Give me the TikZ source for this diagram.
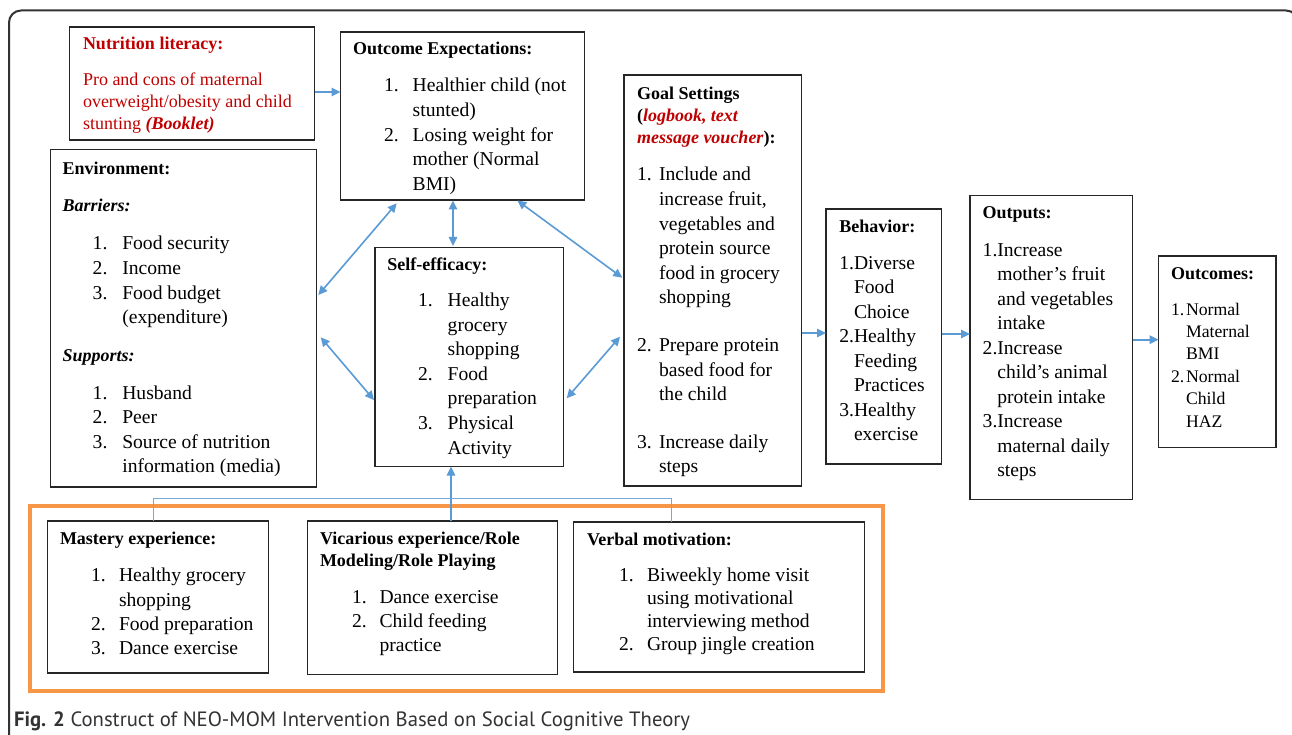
\documentclass[tikz,border=0pt]{standalone}
\usepackage{fontspec}
\setmainfont{LiberationSerif}[Extension=.ttf, UprightFont=*-Regular, BoldFont=*-Bold, ItalicFont=*-Italic, BoldItalicFont=*-BoldItalic]
\newfontfamily\capfont{PT Sans}
\usepackage{array}
\usetikzlibrary{arrows.meta,calc}
\definecolor{nred}{HTML}{C00000}
\definecolor{nblue}{HTML}{5B9BD5}
\definecolor{norange}{HTML}{F79646}
\definecolor{framegray}{HTML}{333333}
\newcommand\ttl{\fontsize{18}{22}\selectfont\bfseries}
\newcommand\bdy{\fontsize{19.6}{24.6}\selectfont}
\tikzset{
  box/.style={draw=black!85, line width=1.1pt, inner sep=0pt, outer sep=0pt, anchor=north west},
  obox/.style={draw=norange, line width=4pt, inner sep=0pt, outer sep=0pt, anchor=north west},
  txt/.style={anchor=base west, inner sep=0pt, outer sep=0pt, align=left},
  arr/.style={draw=nblue, line width=1.6pt, -{Triangle[length=9pt,width=8.5pt]}},
  darr/.style={draw=nblue, line width=1.6pt, {Triangle[length=9pt,width=8.5pt]}-{Triangle[length=9pt,width=8.5pt]}},
  link/.style={draw=nblue!85, line width=1pt},
}
\begin{document}
\begin{tikzpicture}[x=1pt,y=-1pt]
\useasboundingbox (0,0) rectangle (1292,735);
\fill[white] (0,0) rectangle (1292,735);
\clip (0,0) rectangle (1292,735);
\draw[framegray, line width=2pt, rounded corners=12pt] (9,760) -- (9,10.5) -- (1298,10.5) -- (1298,760);

% boxes
\node[box, minimum width=245pt, minimum height=113pt] (nut) at (69.5,27) {};
\node[box, minimum width=244pt, minimum height=168pt] (out) at (340.5,32) {};
\node[box, minimum width=177.5pt, minimum height=411pt] (goal) at (624,75) {};
\node[box, minimum width=266pt, minimum height=337.5pt] (env) at (50.5,149.5) {};
\node[box, minimum width=188.5pt, minimum height=219pt] (self) at (375,247.5) {};
\node[box, minimum width=115.5pt, minimum height=255pt] (beh) at (826,209) {};
\node[box, minimum width=162.5pt, minimum height=304pt] (outp) at (970,195.5) {};
\node[box, minimum width=117.5pt, minimum height=191.5pt] (outc) at (1158.5,256) {};
\node[obox, minimum width=853pt, minimum height=184.5pt] (orng) at (30,506) {};
\node[box, minimum width=221pt, minimum height=152pt] (mast) at (47.5,521) {};
\node[box, minimum width=250pt, minimum height=153.5pt] (vic) at (307.5,521) {};
\node[box, minimum width=291pt, minimum height=150pt] (verb) at (573.5,522) {};

% Nutrition literacy
\node[txt, text=nred, font=\ttl] (nutT) at (83,49.3) {Nutrition literacy:};
\node[txt, text=nred, font=\fontsize{18}{22}\selectfont] (nutB) at (83,86) {\begin{tabular}[t]{@{}l@{}}Pro and cons of maternal\\ overweight/obesity and child\\ stunting \textbf{\textit{(Booklet)}}\end{tabular}};

% Outcome expectations
\node[txt, font=\ttl] (outT) at (353,55) {Outcome Expectations:};
\node[txt, font=\bdy] (outL) at (384,92) {\begin{tabular}[t]{@{}w{l}{28.7pt}@{}l@{}}1. & Healthier child (not\\ & stunted)\\ 2. & Losing weight for\\ & mother (Normal\\ & BMI)\end{tabular}};

% Goal settings
\node[txt, font=\fontsize{18}{22.1}\selectfont\bfseries] (goalT) at (637,99.3) {\begin{tabular}[t]{@{}l@{}}Goal Settings\\ (\textcolor{nred}{\textit{logbook, text}}\\ \textcolor{nred}{\textit{message voucher}}):\end{tabular}};
\node[txt, font=\bdy] (goalL) at (637,181) {\begin{tabular}[t]{@{}w{l}{22pt}@{}l@{}}1. & Include and\\ & increase fruit,\\ & vegetables and\\ & protein source\\ & food in grocery\\ & shopping\\[23pt] 2. & Prepare protein\\ & based food for\\ & the child\\[22.8pt] 3. & Increase daily\\ & steps\end{tabular}};

% Environment
\node[txt, font=\ttl] (envT) at (62.7,174.3) {Environment:};
\node[txt, font=\ttl\itshape] (envBa) at (62.7,211.7) {Barriers:};
\node[txt, font=\bdy] (envL1) at (92.7,250) {\begin{tabular}[t]{@{}w{l}{29.6pt}@{}l@{}}1. & Food security\\ 2. & Income\\ 3. & Food budget\\ & (expenditure)\end{tabular}};
\node[txt, font=\ttl\itshape] (envSu) at (62.7,361) {Supports:};
\node[txt, font=\bdy] (envL2) at (92.7,399) {\begin{tabular}[t]{@{}w{l}{29.6pt}@{}l@{}}1. & Husband\\ 2. & Peer\\ 3. & Source of nutrition\\ & information (media)\end{tabular}};

% Self-efficacy
\node[txt, font=\ttl] (selfT) at (387.3,270) {Self-efficacy:};
\node[txt, font=\bdy] (selfL) at (418,306.5) {\begin{tabular}[t]{@{}w{l}{29.7pt}@{}l@{}}1. & Healthy\\ & grocery\\ & shopping\\ 2. & Food\\ & preparation\\ 3. & Physical\\ & Activity\end{tabular}};

% Behavior
\node[txt, font=\ttl] (behT) at (839.3,232.3) {Behavior:};
\node[txt, font=\fontsize{19.6}{24.5}\selectfont] (behL) at (839.3,269.3) {\begin{tabular}[t]{@{}w{l}{14.7pt}@{}l@{}}1. & Diverse\\ & Food\\ & Choice\\ 2. & Healthy\\ & Feeding\\ & Practices\\ 3. & Healthy\\ & exercise\end{tabular}};

% Outputs
\node[txt, font=\ttl] (outpT) at (982.7,219) {Outputs:};
\node[txt, font=\fontsize{19.6}{24.5}\selectfont] (outpL) at (982.7,256) {\begin{tabular}[t]{@{}w{l}{14.6pt}@{}l@{}}1. & Increase\\ & mother’s fruit\\ & and vegetables\\ & intake\\ 2. & Increase\\ & child’s animal\\ & protein intake\\ 3. & Increase\\ & maternal daily\\ & steps\end{tabular}};

% Outcomes
\node[txt, font=\ttl] (outcT) at (1171,279.3) {Outcomes:};
\node[txt, font=\fontsize{17.7}{22.4}\selectfont] (outcL) at (1171,315) {\begin{tabular}[t]{@{}w{l}{15pt}@{}l@{}}1. & Normal\\ & Maternal\\ & BMI\\ 2. & Normal\\ & Child\\ & HAZ\end{tabular}};

% Mastery
\node[txt, font=\ttl] (mastT) at (60,544) {Mastery experience:};
\node[txt, font=\fontsize{19.6}{24.3}\selectfont] (mastL) at (91,581.7) {\begin{tabular}[t]{@{}w{l}{28pt}@{}l@{}}1. & Healthy grocery\\ & shopping\\ 2. & Food preparation\\ 3. & Dance exercise\end{tabular}};

% Vicarious
\node[txt, font=\fontsize{18}{22.7}\selectfont\bfseries] (vicT) at (320,544) {\begin{tabular}[t]{@{}l@{}}Vicarious experience/Role\\ Modeling/Role Playing\end{tabular}};
\node[txt, font=\fontsize{19.6}{24.2}\selectfont] (vicL) at (352,603.3) {\begin{tabular}[t]{@{}w{l}{27.5pt}@{}l@{}}1. & Dance exercise\\ 2. & Child feeding\\ & practice\end{tabular}};

% Verbal
\node[txt, font=\ttl] (verbT) at (587,545) {Verbal motivation:};
\node[txt, font=\fontsize{19.6}{22.8}\selectfont] (verbL) at (619,581.7) {\begin{tabular}[t]{@{}w{l}{28pt}@{}l@{}}1. & Biweekly home visit\\ & using motivational\\ & interviewing method\\ 2. & Group jingle creation\end{tabular}};

% caption
\node[txt, font=\capfont\fontsize{20.7}{24}\selectfont, text=black!80] (cap) at (14,726) {\textbf{Fig. 2} Construct of NEO-MOM Intervention Based on Social Cognitive Theory};

% arrows
\draw[arr] ($(nut.north east)+(0,65)$) -- ($(out.north west)+(0,60)$);
\draw[darr] ($(out.south west)+(56.2,3.3)$) -- ($(env.north east)+(1.8,145.5)$);
\draw[darr] ($(out.south west)+(112.5,0.5)$) -- ($(self.north west)+(78,-1.5)$);
\draw[darr] ($(out.south west)+(176.8,0.5)$) -- ($(goal.north west)+(-1.7,202.7)$);
\draw[darr] ($(env.north east)+(4.2,187.8)$) -- ($(self.north west)+(-1,152.5)$);
\draw[darr] ($(self.north east)+(3.2,150.8)$) -- ($(goal.north west)+(-4,261.7)$);
\draw[arr] ($(goal.north east)+(0,258)$) -- ($(beh.north west)+(0,124)$);
\draw[arr] ($(beh.north east)+(0,125)$) -- ($(outp.north west)+(0,138.5)$);
\draw[arr] ($(outp.north east)+(0,144.2)$) -- ($(outc.north west)+(0,83.7)$);
\draw[arr] ($(vic.north west)+(143.5,0)$) -- ($(self.south west)+(76,0)$);
\coordinate (mt) at ($(mast.north west)+(105.5,0)$);
\coordinate (vt) at ($(verb.north west)+(97.5,0)$);
\coordinate (jl) at (0,498);
\draw[link] (mt) -- (mt |- jl) -- (vt |- jl) -- (vt);
\end{tikzpicture}
\end{document}
